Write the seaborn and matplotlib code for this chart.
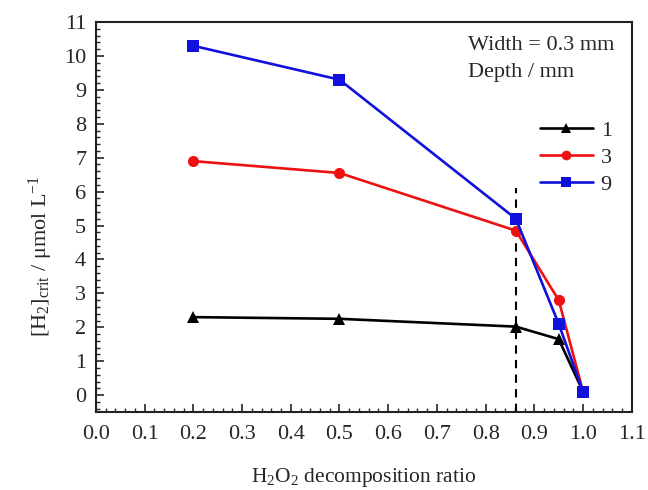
import matplotlib
matplotlib.use("Agg")
import matplotlib.pyplot as plt
import seaborn as sns
import pandas as pd
from matplotlib.ticker import MultipleLocator

ratio = [0.2, 0.5, 0.862, 0.95, 1.0]
depths = ["1", "3", "9"]
h2_depth1 = [2.30, 2.25, 2.02, 1.65, 0.10]
h2_depth3 = [6.90, 6.55, 4.85, 2.80, 0.10]
h2_depth9 = [10.30, 9.30, 5.20, 2.10, 0.10]
dashed_x = 0.862

sns.set_style("white")
plt.rcParams["font.family"] = ["Liberation Serif", "DejaVu Serif"]
plt.rcParams["mathtext.fontset"] = "custom"
plt.rcParams["mathtext.rm"] = "Liberation Serif"
plt.rcParams["mathtext.it"] = "Liberation Serif:italic"

rows = []
for d, vals in zip(depths, [h2_depth1, h2_depth3, h2_depth9]):
    for x, y in zip(ratio, vals):
        rows.append({"ratio": x, "h2": y, "depth": d})
df = pd.DataFrame(rows)

colors = {"1": "#000000", "3": "#ee1111", "9": "#1111dd"}
markers = {"1": "^", "3": "o", "9": "s"}

fig = plt.figure(figsize=(6.48, 4.90), dpi=100)
ax = fig.add_axes([0.148, 0.159, 0.827, 0.796])

sns.lineplot(data=df, x="ratio", y="h2", hue="depth", style="depth",
             palette=colors, markers=markers, dashes=False, lw=1.9,
             markersize=8, markeredgewidth=0, ax=ax, legend=True, sort=False)

ax.plot([dashed_x, dashed_x], [-0.5, 6.1], ls=(0, (4, 3)), color="black", lw=1.5, zorder=1)

ax.set_xlim(0.0, 1.1)
ax.set_ylim(-0.5, 11)
ax.xaxis.set_major_locator(MultipleLocator(0.1))
ax.xaxis.set_minor_locator(MultipleLocator(0.02))
ax.yaxis.set_major_locator(MultipleLocator(1))
ax.yaxis.set_minor_locator(MultipleLocator(0.2))
ax.set_xticks([round(0.1 * i, 1) for i in range(12)])
ax.set_xticklabels([f"{0.1 * i:.1f}" for i in range(12)])
ax.tick_params(axis="both", which="major", direction="in", length=6, width=1.2,
               labelsize=16, bottom=True, left=True, top=False, right=False, pad=7)
ax.tick_params(axis="x", which="major", pad=9)
ax.tick_params(axis="both", which="minor", direction="in", length=3, width=1.0,
               bottom=True, left=True, top=False, right=False)
for s in ax.spines.values():
    s.set_linewidth(1.5)
    s.set_color("#222222")

ax.set_xlabel(r"H$_2$O$_2$ decomposition ratio", fontsize=15.5, labelpad=16)
ax.set_ylabel(r"[H$_2$]$_{\mathrm{crit}}$ / μmol L$^{-1}$", fontsize=16)
ax.yaxis.set_label_coords(-0.077, 0.40)

ax.text(0.694, 0.965, "Width = 0.3 mm", transform=ax.transAxes, fontsize=16,
        ha="left", va="top")
ax.text(0.694, 0.895, "Depth / mm", transform=ax.transAxes, fontsize=16,
        ha="left", va="top")

handles, labels = ax.get_legend_handles_labels()
for h in handles:
    h.set_markersize(7)
leg = ax.legend(handles, labels, loc="upper right", bbox_to_anchor=(1.0, 0.80),
                frameon=False, fontsize=16, handlelength=2.4, handletextpad=0.35,
                labelspacing=0.3, borderaxespad=0.5)

fig.savefig("out.png", dpi=100)
